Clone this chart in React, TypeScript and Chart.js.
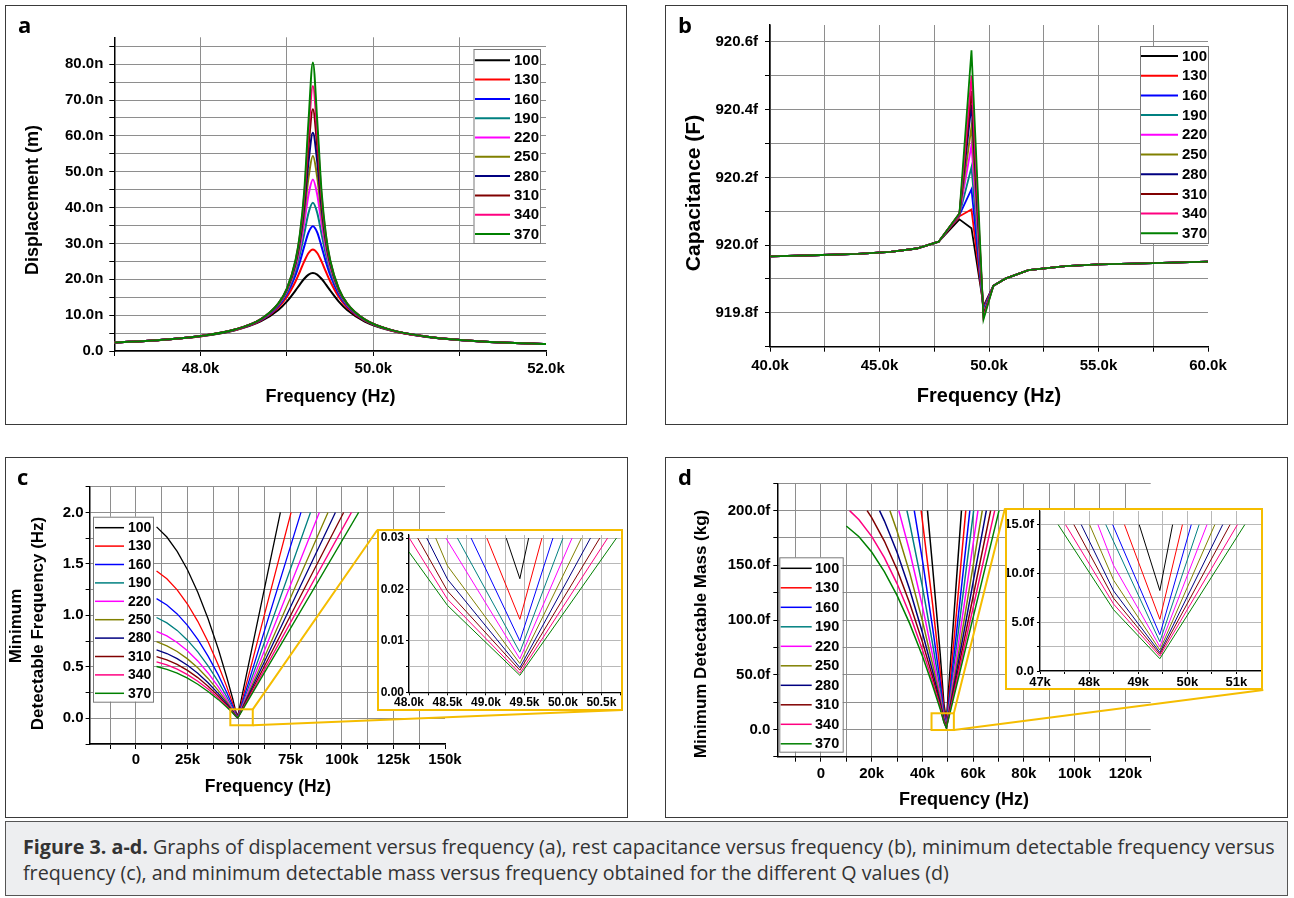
import React, { useEffect, useRef } from 'react';
import { Chart, registerables } from 'chart.js';

Chart.register(...registerables);

const SANS = '"Liberation Sans", Arial, Helvetica, sans-serif';
const LETTER_FONT = '"Open Sans", "Noto Sans", sans-serif';

// ---------- series identity ----------
const Q_VALUES = [100, 130, 160, 190, 220, 250, 280, 310, 340, 370];
const Q_COLORS = ['#000000', '#ff0000', '#0000ff', '#008080', '#ff00ff', '#808000', '#000080', '#800000', '#ff0080', '#008000'];

// ---------- (a) displacement (nm) vs frequency (kHz) ----------
const DISP_FREQ_K = [47.0, 47.5, 48.0, 48.4, 48.7, 48.9, 49.0, 49.1, 49.15, 49.2, 49.25, 49.3, 49.35, 49.4, 49.45, 49.5, 49.6, 49.7, 49.9, 50.2, 50.6, 51.0, 51.5, 52.0];
const DISP_Q100 = [2.37, 3.02, 4.11, 5.79, 8.31, 11.45, 13.83, 16.90, 18.59, 20.15, 21.32, 21.75, 21.32, 20.15, 18.58, 16.89, 13.78, 11.38, 8.22, 5.70, 4.00, 3.09, 2.38, 1.93];
const DISP_Q130 = [2.38, 3.03, 4.14, 5.88, 8.57, 12.15, 15.13, 19.47, 22.18, 25.00, 27.33, 28.28, 27.33, 25.00, 22.17, 19.44, 15.06, 12.07, 8.47, 5.78, 4.04, 3.10, 2.38, 1.93];
const DISP_Q160 = [2.39, 3.03, 4.16, 5.92, 8.70, 12.55, 15.93, 21.26, 24.94, 29.18, 33.09, 34.80, 33.09, 29.18, 24.92, 21.22, 15.85, 12.46, 8.61, 5.82, 4.06, 3.10, 2.38, 1.93];
const DISP_Q190 = [2.39, 3.03, 4.17, 5.95, 8.78, 12.80, 16.44, 22.52, 27.05, 32.72, 38.56, 41.33, 38.56, 32.72, 27.02, 22.47, 16.35, 12.70, 8.68, 5.84, 4.07, 3.10, 2.38, 1.93];
const DISP_Q220 = [2.39, 3.03, 4.17, 5.96, 8.83, 12.96, 16.78, 23.41, 28.64, 35.67, 43.66, 47.85, 43.66, 35.67, 28.60, 23.35, 16.68, 12.86, 8.73, 5.86, 4.07, 3.10, 2.38, 1.93];
const DISP_Q250 = [2.39, 3.03, 4.17, 5.98, 8.87, 13.07, 17.02, 24.08, 29.89, 38.16, 48.48, 54.38, 48.48, 38.16, 29.84, 24.01, 16.92, 12.97, 8.77, 5.87, 4.07, 3.10, 2.38, 1.93];
const DISP_Q280 = [2.39, 3.03, 4.18, 5.98, 8.89, 13.14, 17.18, 24.56, 30.83, 40.20, 52.88, 60.90, 52.88, 40.20, 30.77, 24.49, 17.08, 13.04, 8.79, 5.88, 4.07, 3.10, 2.38, 1.93];
const DISP_Q310 = [2.39, 3.03, 4.18, 5.99, 8.91, 13.20, 17.31, 24.95, 31.60, 41.95, 57.07, 67.43, 57.07, 41.95, 31.53, 24.87, 17.21, 13.10, 8.81, 5.88, 4.07, 3.10, 2.38, 1.93];
const DISP_Q340 = [2.39, 3.03, 4.18, 5.99, 8.92, 13.24, 17.41, 25.25, 32.22, 43.43, 60.99, 73.95, 60.99, 43.43, 32.14, 25.16, 17.31, 13.14, 8.82, 5.88, 4.07, 3.10, 2.38, 1.93];
const DISP_Q370 = [2.39, 3.03, 4.18, 6.00, 8.93, 13.28, 17.49, 25.47, 32.69, 44.60, 64.37, 80.48, 64.37, 44.60, 32.60, 25.38, 17.38, 13.17, 8.83, 5.89, 4.07, 3.10, 2.38, 1.93];
const DISP_SERIES = [DISP_Q100, DISP_Q130, DISP_Q160, DISP_Q190, DISP_Q220, DISP_Q250, DISP_Q280, DISP_Q310, DISP_Q340, DISP_Q370];

// ---------- (b) capacitance (fF) vs frequency (kHz) ----------
const CAP_FREQ_K = [40.0, 42.0, 44.0, 45.5, 46.7, 47.7, 48.65, 49.2, 49.75, 50.2, 50.75, 51.8, 53.5, 55.0, 57.5, 60.0];
const CAP_Q100 = [919.967, 919.970, 919.974, 919.980, 919.990, 920.010, 920.076, 920.050, 919.820, 919.880, 919.901, 919.926, 919.938, 919.943, 919.947, 919.951];
const CAP_Q130 = [919.967, 919.970, 919.974, 919.980, 919.990, 920.010, 920.085, 920.105, 919.815, 919.880, 919.901, 919.926, 919.938, 919.943, 919.947, 919.951];
const CAP_Q160 = [919.967, 919.970, 919.974, 919.980, 919.990, 920.010, 920.089, 920.165, 919.810, 919.880, 919.901, 919.926, 919.938, 919.943, 919.947, 919.951];
const CAP_Q190 = [919.967, 919.970, 919.974, 919.980, 919.990, 920.010, 920.090, 920.230, 919.805, 919.880, 919.901, 919.926, 919.938, 919.943, 919.947, 919.951];
const CAP_Q220 = [919.967, 919.970, 919.974, 919.980, 919.990, 920.010, 920.091, 920.295, 919.800, 919.880, 919.901, 919.926, 919.938, 919.943, 919.947, 919.951];
const CAP_Q250 = [919.967, 919.970, 919.974, 919.980, 919.990, 920.010, 920.092, 920.350, 919.797, 919.880, 919.901, 919.926, 919.938, 919.943, 919.947, 919.951];
const CAP_Q280 = [919.967, 919.970, 919.974, 919.980, 919.990, 920.010, 920.092, 920.415, 919.793, 919.880, 919.901, 919.926, 919.938, 919.943, 919.947, 919.951];
const CAP_Q310 = [919.967, 919.970, 919.974, 919.980, 919.990, 920.010, 920.093, 920.455, 919.790, 919.880, 919.901, 919.926, 919.938, 919.943, 919.947, 919.951];
const CAP_Q340 = [919.967, 919.970, 919.974, 919.980, 919.990, 920.010, 920.093, 920.500, 919.786, 919.880, 919.901, 919.926, 919.938, 919.943, 919.947, 919.951];
const CAP_Q370 = [919.967, 919.970, 919.974, 919.980, 919.990, 920.010, 920.094, 920.575, 919.781, 919.880, 919.901, 919.926, 919.938, 919.943, 919.947, 919.951];
const CAP_SERIES = [CAP_Q100, CAP_Q130, CAP_Q160, CAP_Q190, CAP_Q220, CAP_Q250, CAP_Q280, CAP_Q310, CAP_Q340, CAP_Q370];

// ---------- (c) minimum detectable frequency (Hz) vs frequency (kHz) ----------
const MDF_FREQ_K = [10, 15, 20, 25, 30, 35, 40, 44, 47, 48.5, 49.44];
const MDF_Q100 = [1.860, 1.761, 1.622, 1.443, 1.225, 0.967, 0.670, 0.403, 0.187, 0.0627, 0.0221];
const MDF_Q130 = [1.431, 1.355, 1.248, 1.110, 0.942, 0.744, 0.515, 0.310, 0.144, 0.0484, 0.0142];
const MDF_Q160 = [1.163, 1.101, 1.014, 0.902, 0.766, 0.604, 0.419, 0.252, 0.117, 0.0392, 0.0100];
const MDF_Q190 = [0.979, 0.927, 0.854, 0.759, 0.645, 0.509, 0.353, 0.212, 0.098, 0.0330, 0.0078];
const MDF_Q220 = [0.845, 0.800, 0.737, 0.656, 0.557, 0.440, 0.305, 0.183, 0.085, 0.0286, 0.0065];
const MDF_Q250 = [0.744, 0.704, 0.649, 0.577, 0.490, 0.387, 0.268, 0.161, 0.075, 0.0246, 0.0056];
const MDF_Q280 = [0.664, 0.629, 0.579, 0.515, 0.438, 0.345, 0.239, 0.144, 0.067, 0.0220, 0.0048];
const MDF_Q310 = [0.600, 0.568, 0.523, 0.465, 0.395, 0.312, 0.216, 0.130, 0.060, 0.0197, 0.0043];
const MDF_Q340 = [0.547, 0.518, 0.477, 0.424, 0.360, 0.284, 0.197, 0.119, 0.055, 0.0181, 0.0037];
const MDF_Q370 = [0.503, 0.476, 0.438, 0.390, 0.331, 0.261, 0.181, 0.109, 0.051, 0.0169, 0.0033];
const MDF_SERIES = [MDF_Q100, MDF_Q130, MDF_Q160, MDF_Q190, MDF_Q220, MDF_Q250, MDF_Q280, MDF_Q310, MDF_Q340, MDF_Q370];
const MDF_EXIT_K = [70.1, 75.3, 80.1, 84.7, 89.0, 93.2, 96.8, 100.8, 104.6, 108.1];
const MDF_LIMIT = 2.0;

// (c) inset
const MDFI_ENTRY_K = [49.263, 49.011, 48.807, 48.629, 48.48, 48.347, 48.23, 48.113, 48.004, 48.0];
const MDFI_ENTRY_VAL = [0.03, 0.03, 0.03, 0.03, 0.03, 0.03, 0.03, 0.03, 0.03, 0.0273];
const MDFI_KNEE_K = 48.5;
const MDFI_KNEE = [null, null, null, null, null, 0.0246, 0.0220, 0.0197, 0.0181, 0.0169];
const MDFI_MIN_K = 49.44;
const MDFI_MIN = [0.0221, 0.0142, 0.0100, 0.0078, 0.0065, 0.0056, 0.0048, 0.0043, 0.0037, 0.0033];
const MDFI_EXIT_K = [49.554, 49.727, 49.870, 50.000, 50.118, 50.240, 50.357, 50.478, 50.580, 50.695];
const MDFI_EDGE = 0.03;

// ---------- (d) minimum detectable mass (fg) vs frequency (kHz) ----------
const MDM_FREQ_K = [10, 15, 20, 25, 30, 35, 40, 44, 47, 48.5, 49.44];
const MDM_Q100 = [null, null, null, null, null, null, null, 149.1, 69.2, 23.2, 8.25];
const MDM_Q130 = [null, null, null, null, null, null, 190.7, 114.7, 53.2, 17.9, 5.3];
const MDM_Q160 = [null, null, null, null, null, null, 154.9, 93.2, 43.2, 14.5, 3.72];
const MDM_Q190 = [null, null, null, null, null, 188.3, 130.5, 78.5, 36.4, 12.2, 3.0];
const MDM_Q220 = [null, null, null, null, null, 162.6, 112.7, 67.8, 31.4, 10.6, 2.5];
const MDM_Q250 = [null, null, null, null, 181.3, 143.1, 99.2, 59.6, 27.7, 9.3, 2.15];
const MDM_Q280 = [null, null, null, 190.7, 161.9, 127.8, 88.5, 53.3, 24.7, 8.3, 1.9];
const MDM_Q310 = [null, null, 193.6, 172.2, 146.2, 115.4, 80.0, 48.1, 22.3, 7.5, 1.72];
const MDM_Q340 = [null, 191.6, 176.5, 157.0, 133.3, 105.2, 72.9, 43.9, 20.3, 6.8, 1.52];
const MDM_Q370 = [186.0, 176.1, 162.2, 144.3, 122.5, 96.7, 67.0, 40.3, 18.7, 6.3, 1.26];
const MDM_SERIES = [MDM_Q100, MDM_Q130, MDM_Q160, MDM_Q190, MDM_Q220, MDM_Q250, MDM_Q280, MDM_Q310, MDM_Q340, MDM_Q370];
const MDM_ENTRY_K = [42.0, 39.5, 36.8, 33.9, 30.7, 27.2, 23.1, 18.2, 11.3, null];
const MDM_EXIT_K = [55.4, 57.1, 58.7, 60.2, 61.9, 63.6, 65.2, 66.9, 68.5, 70.2];
const MDM_LIMIT = 200;

// (d) inset
const MDMI_ENTRY_K = [49.02, 48.72, 48.48, 48.34, 48.18, 48.01, 47.84, 47.69, 47.52, 47.37];
const MDMI_KNEE_K = 48.5;
const MDMI_KNEE = [null, null, null, null, 10.8, 9.3, 8.2, 7.45, 6.85, 6.27];
const MDMI_MIN_K = 49.44;
const MDMI_MIN = [8.25, 5.3, 3.72, 3.0, 2.5, 2.15, 1.9, 1.72, 1.52, 1.26];
const MDMI_EXIT_K = [49.70, 49.90, 50.08, 50.24, 50.40, 50.56, 50.72, 50.87, 51.02, 51.17];
const MDMI_EDGE = 15;

// ---------- point builders ----------
const dispPoints = (i: number) => DISP_FREQ_K.map((f, j) => ({ x: f, y: DISP_SERIES[i][j] }));
const capPoints = (i: number) => CAP_FREQ_K.map((f, j) => ({ x: f, y: CAP_SERIES[i][j] }));
const mdfPoints = (i: number) => {
  const pts = MDF_FREQ_K.map((f, j) => ({ x: f, y: MDF_SERIES[i][j] }));
  pts.push({ x: MDF_EXIT_K[i], y: MDF_LIMIT });
  return pts;
};
const mdfInsetPoints = (i: number) => {
  const pts: any[] = [{ x: MDFI_ENTRY_K[i], y: MDFI_ENTRY_VAL[i] }];
  if (MDFI_KNEE[i] !== null) pts.push({ x: MDFI_KNEE_K, y: MDFI_KNEE[i] });
  pts.push({ x: MDFI_MIN_K, y: MDFI_MIN[i] });
  pts.push({ x: MDFI_EXIT_K[i], y: MDFI_EDGE });
  return pts;
};
const mdmPoints = (i: number) => {
  const pts: any[] = [];
  if (MDM_ENTRY_K[i] !== null) pts.push({ x: MDM_ENTRY_K[i], y: MDM_LIMIT });
  MDM_FREQ_K.forEach((f, j) => {
    const v = MDM_SERIES[i][j];
    if (v !== null) pts.push({ x: f, y: v });
  });
  pts.push({ x: MDM_EXIT_K[i], y: MDM_LIMIT });
  return pts;
};
const mdmInsetPoints = (i: number) => {
  const pts: any[] = [{ x: MDMI_ENTRY_K[i], y: MDMI_EDGE }];
  if (MDMI_KNEE[i] !== null) pts.push({ x: MDMI_KNEE_K, y: MDMI_KNEE[i] });
  pts.push({ x: MDMI_MIN_K, y: MDMI_MIN[i] });
  pts.push({ x: MDMI_EXIT_K[i], y: MDMI_EDGE });
  return pts;
};

function makeDatasets(builder: (i: number) => any[], width: number, smooth: boolean) {
  return Q_VALUES.map((q, i) => ({
    label: String(q),
    data: builder(i),
    borderColor: Q_COLORS[i],
    backgroundColor: Q_COLORS[i],
    borderWidth: width,
    pointRadius: 0,
    pointHoverRadius: 0,
    fill: false,
    tension: 0,
    cubicInterpolationMode: smooth ? 'monotone' : 'default',
    order: Q_VALUES.length - 1 - i,
  }));
}

// ---------- axis helper ----------
function axis(o: any) {
  return {
    type: 'linear',
    min: o.min,
    max: o.max,
    afterFit: (s: any) => {
      if (o.horizontal) s.height = o.fit; else s.width = o.fit;
      s.paddingLeft = 0; s.paddingRight = 0; s.paddingTop = 0; s.paddingBottom = 0;
    },
    ticks: {
      stepSize: o.step,
      autoSkip: false,
      maxRotation: 0,
      minRotation: 0,
      includeBounds: false,
      padding: o.pad,
      color: '#000',
      font: { family: SANS, size: o.font, weight: 'bold' },
      callback: (v: number) => o.label(v),
    },
    grid: {
      color: (ctx: any) => (ctx.tick && o.hideAt !== undefined && Math.abs(ctx.tick.value - o.hideAt) < 1e-9) ? 'rgba(0,0,0,0)' : o.grid,
      lineWidth: 1,
      tickLength: o.tickLen,
      tickColor: '#000',
      tickWidth: 1,
    },
    border: { display: true, color: '#000', width: o.border ?? 1.5 },
  };
}

// ---------- decoration plugin (titles, legend, zoom marker) ----------
function decor(spec: any) {
  return {
    id: 'decor',
    afterDraw(chart: any) {
      const ctx = chart.ctx;
      ctx.save();
      if (spec.zoom) {
        const z = spec.zoom;
        const xs = chart.scales.x, ys = chart.scales.y;
        const x0 = xs.getPixelForValue(z.x0), x1 = xs.getPixelForValue(z.x1);
        const yb = ys.getPixelForValue(z.y0), yt = ys.getPixelForValue(z.y1);
        ctx.strokeStyle = '#f5bd00';
        ctx.lineWidth = 2;
        ctx.strokeRect(x0, yt, x1 - x0, yb - yt);
        ctx.beginPath();
        ctx.moveTo(x1, yt); ctx.lineTo(z.tl[0], z.tl[1]);
        ctx.moveTo(x1, yb); ctx.lineTo(z.br[0], z.br[1]);
        ctx.stroke();
      }
      (spec.texts || []).forEach((t: any) => {
        ctx.save();
        ctx.translate(t.x, t.y);
        if (t.rotate) ctx.rotate(-Math.PI / 2);
        ctx.font = `bold ${t.size}px ${t.family || SANS}`;
        ctx.fillStyle = '#000';
        ctx.textAlign = t.align || 'center';
        ctx.textBaseline = t.baseline || 'middle';
        ctx.fillText(t.text, 0, 0);
        ctx.restore();
      });
      if (spec.legend) {
        const L = spec.legend;
        ctx.fillStyle = '#fff';
        ctx.fillRect(L.x0, L.y0, L.x1 - L.x0, L.y1 - L.y0);
        ctx.strokeStyle = '#7a7a7a';
        ctx.lineWidth = 1;
        ctx.strokeRect(L.x0 + 0.5, L.y0 + 0.5, L.x1 - L.x0, L.y1 - L.y0);
        ctx.font = `bold ${L.size}px ${SANS}`;
        ctx.textAlign = 'left';
        ctx.textBaseline = 'middle';
        chart.data.datasets.forEach((ds: any, i: number) => {
          const y = L.row0 + i * L.step;
          ctx.strokeStyle = ds.borderColor;
          ctx.lineWidth = L.lw;
          ctx.beginPath();
          ctx.moveTo(L.lx0, y); ctx.lineTo(L.lx1, y);
          ctx.stroke();
          ctx.fillStyle = '#000';
          ctx.fillText(ds.label, L.tx, y + 0.5);
        });
      }
      ctx.restore();
    },
  };
}

function lineConfig(o: any) {
  return {
    type: 'line',
    data: { datasets: o.datasets },
    options: {
      responsive: false,
      maintainAspectRatio: false,
      animation: false,
      events: [],
      layout: { autoPadding: false, padding: { left: 0, top: o.area.top, right: o.w - o.area.right, bottom: 0 } },
      scales: { x: o.x, y: o.y },
      plugins: { legend: { display: false }, tooltip: { enabled: false }, title: { display: false } },
    },
    plugins: [decor(o.decor)],
  };
}

function ChartCanvas({ left, top, width, height, build }: any) {
  const ref = useRef<HTMLCanvasElement | null>(null);
  useEffect(() => {
    const chart = new Chart(ref.current as HTMLCanvasElement, build());
    return () => chart.destroy();
  }, []);
  return <canvas ref={ref} width={width} height={height} style={{ position: 'absolute', left, top, width, height }} />;
}

// ---------- chart builders ----------
const GRID = '#8e8e8e';
const GRID_INSET = '#b8b8b8';

const buildA = () => {
  const w = 622, h = 420, area = { left: 109.3, top: 32.3, right: 541, bottom: 346 };
  return lineConfig({
    w, area,
    datasets: makeDatasets(dispPoints, 2, true),
    x: axis({ horizontal: true, min: 47, max: 52, step: 1, fit: h - area.bottom, font: 15, pad: 4, tickLen: 5, grid: GRID, hideAt: 52,
      label: (v: number) => (Math.round(v) % 2 === 0 ? v.toFixed(1) + 'k' : '') }),
    y: axis({ min: 0, max: 87.5, step: 5, fit: area.left, font: 15, pad: 6, tickLen: 5, grid: GRID,
      label: (v: number) => (Math.round(v) % 10 === 0 ? (v === 0 ? '0.0' : v.toFixed(1) + 'n') : '') }),
    decor: {
      texts: [
        { text: 'a', x: 13, y: 28, size: 22, family: LETTER_FONT, align: 'left', baseline: 'alphabetic' },
        { text: 'Displacement (m)', x: 27.6, y: 195, size: 18, rotate: true },
        { text: 'Frequency (Hz)', x: 325.6, y: 392, size: 18 },
      ],
      legend: { x0: 468.5, y0: 44, x1: 535, y1: 238, row0: 55.3, step: 19.3, lx0: 470, lx1: 505, tx: 509, size: 15, lw: 2 },
    },
  });
};

const buildB = () => {
  const w = 623, h = 420, area = { left: 105, top: 20, right: 543, bottom: 341.7 };
  return lineConfig({
    w, area,
    datasets: makeDatasets(capPoints, 1.8, false),
    x: axis({ horizontal: true, min: 40, max: 60, step: 2.5, fit: h - area.bottom, font: 15, pad: 5, tickLen: 5, grid: GRID, hideAt: 60,
      label: (v: number) => (Math.round(v * 2) % 10 === 0 ? v.toFixed(1) + 'k' : '') }),
    y: axis({ min: 919.7, max: 920.65, step: 0.1, fit: area.left, font: 15, pad: 7, tickLen: 5, grid: GRID,
      label: (v: number) => (Math.round(v * 10) % 2 === 0 ? v.toFixed(1) + 'f' : '') }),
    decor: {
      texts: [
        { text: 'b', x: 13, y: 28, size: 22, family: LETTER_FONT, align: 'left', baseline: 'alphabetic' },
        { text: 'Capacitance (F)', x: 29, y: 188, size: 21, rotate: true },
        { text: 'Frequency (Hz)', x: 324, y: 391, size: 20 },
      ],
      legend: { x0: 475, y0: 41, x1: 543, y1: 238, row0: 51, step: 19.7, lx0: 476, lx1: 513, tx: 517, size: 15, lw: 2 },
    },
  });
};

const buildC = () => {
  const w = 623, h = 361, area = { left: 84.6, top: 29.7, right: 440, bottom: 287 };
  return lineConfig({
    w, area,
    datasets: makeDatasets(mdfPoints, 1.3, false),
    x: axis({ horizontal: true, min: -22.5, max: 150, step: 12.5, fit: h - area.bottom, font: 15, pad: 2, tickLen: 5, grid: GRID, hideAt: 150,
      label: (v: number) => (Math.round(v / 12.5) % 2 === 0 ? (v === 0 ? '0' : Math.round(v) + 'k') : '') }),
    y: axis({ min: -0.25, max: 2.25, step: 0.25, fit: area.left, font: 15, pad: 2, tickLen: 4, grid: GRID,
      label: (v: number) => (Math.round(v * 4) % 2 === 0 ? v.toFixed(1) : '') }),
    decor: {
      zoom: { x0: 45.8, x1: 56.7, y0: -0.068, y1: 0.087, tl: [372.3, 73], br: [617.7, 253] },
      texts: [
        { text: 'c', x: 12, y: 28, size: 22, family: LETTER_FONT, align: 'left', baseline: 'alphabetic' },
        { text: 'Minimum', x: 11.7, y: 169, size: 17, rotate: true },
        { text: 'Detectable Frequency (Hz)', x: 33.3, y: 166.5, size: 17, rotate: true },
        { text: 'Frequency (Hz)', x: 263, y: 330.3, size: 17.5 },
      ],
      legend: { x0: 88, y0: 59.7, x1: 148, y1: 244.7, row0: 70.7, step: 18.4, lx0: 90, lx1: 119, tx: 123, size: 14, lw: 1.5 },
    },
  });
};

const buildCInset = () => {
  const w = 242, h = 178, area = { left: 30, top: 4, right: 241.7, bottom: 161.3 };
  return lineConfig({
    w, area,
    datasets: makeDatasets(mdfInsetPoints, 1, false),
    x: axis({ horizontal: true, min: 48, max: 50.75, step: 0.25, fit: h - area.bottom, font: 12, pad: 0.5, tickLen: 3, grid: GRID_INSET, hideAt: 50.75, border: 1.2,
      label: (v: number) => (Math.round(v * 4) % 2 === 0 ? v.toFixed(1) + 'k' : '') }),
    y: axis({ min: 0, max: 0.0306, step: 0.005, fit: area.left, font: 12, pad: 2, tickLen: 3, grid: GRID_INSET, border: 1.2,
      label: (v: number) => (Math.round(v * 200) % 2 === 0 ? v.toFixed(2) : '') }),
    decor: {},
  });
};

const buildD = () => {
  const w = 623, h = 361, area = { left: 112.3, top: 26.3, right: 485.7, bottom: 299.7 };
  return lineConfig({
    w, area,
    datasets: makeDatasets(mdmPoints, 1.5, false),
    x: axis({ horizontal: true, min: -17.2, max: 130, step: 10, fit: h - area.bottom, font: 15, pad: 3, tickLen: 5, grid: GRID, hideAt: 130,
      label: (v: number) => (Math.round(v / 10) % 2 === 0 ? (v === 0 ? '0' : Math.round(v) + 'k') : '') }),
    y: axis({ min: -25, max: 225, step: 25, fit: area.left, font: 15, pad: 3, tickLen: 4, grid: GRID,
      label: (v: number) => (Math.round(v / 25) % 2 === 0 ? (v === 0 ? '0.0' : v.toFixed(1) + 'f') : '') }),
    decor: {
      zoom: { x0: 43.6, x1: 52.4, y0: -0.6, y1: 14.7, tl: [340, 51.3], br: [598.3, 233] },
      texts: [
        { text: 'd', x: 13, y: 28, size: 22, family: LETTER_FONT, align: 'left', baseline: 'alphabetic' },
        { text: 'Minimum Detectable Mass (kg)', x: 36.7, y: 177, size: 17, rotate: true },
        { text: 'Frequency (Hz)', x: 299, y: 343, size: 18 },
      ],
      legend: { x0: 114.3, y0: 100.3, x1: 177.7, y1: 294.7, row0: 111.3, step: 19.5, lx0: 115.7, lx1: 146.7, tx: 150, size: 14.5, lw: 1.5 },
    },
  });
};

const buildDInset = () => {
  const w = 254, h = 178, area = { left: 33, top: 1, right: 254, bottom: 161 };
  return lineConfig({
    w, area,
    datasets: makeDatasets(mdmInsetPoints, 1, false),
    x: axis({ horizontal: true, min: 47, max: 51.5, step: 0.5, fit: h - area.bottom, font: 13, pad: 1, tickLen: 3, grid: GRID_INSET, hideAt: 51.5, border: 1.2,
      label: (v: number) => (Math.round(v * 2) % 2 === 0 ? Math.round(v) + 'k' : '') }),
    y: axis({ min: 0, max: 16.4, step: 2.5, fit: area.left, font: 13, pad: 3, tickLen: 3, grid: GRID_INSET, border: 1.2,
      label: (v: number) => (Math.round(v / 2.5) % 2 === 0 ? (v === 0 ? '0.0' : v.toFixed(1) + 'f') : '') }),
    decor: {},
  });
};

const frame = (l: number, t: number, w: number, h: number): any => ({
  position: 'absolute', left: l, top: t, width: w, height: h, boxSizing: 'border-box', border: '1px solid #3a3a3a', background: '#fff',
});
const insetFrame = (l: number, t: number, w: number, h: number): any => ({
  position: 'absolute', left: l, top: t, width: w, height: h, boxSizing: 'border-box', border: '2px solid #f5bd00', background: '#fff',
});

export default function App() {
  return (
    <div style={{ position: 'absolute', left: 0, top: 0, width: 1294, height: 898, background: '#fff', overflow: 'hidden' }}>
      <div style={frame(5, 5, 622, 420)} />
      <div style={frame(665, 5, 623, 420)} />
      <div style={frame(5, 457, 623, 361)} />
      <div style={frame(665, 457, 623, 361)} />
      <ChartCanvas left={5} top={5} width={622} height={420} build={buildA} />
      <ChartCanvas left={665} top={5} width={623} height={420} build={buildB} />
      <ChartCanvas left={5} top={457} width={623} height={361} build={buildC} />
      <ChartCanvas left={665} top={457} width={623} height={361} build={buildD} />
      <div style={insetFrame(377, 529, 246, 182)} />
      <ChartCanvas left={379} top={531} width={242} height={178} build={buildCInset} />
      <div style={insetFrame(1005, 508, 258, 182)} />
      <ChartCanvas left={1007} top={510} width={254} height={178} build={buildDInset} />
      <div style={{ position: 'absolute', left: 5, top: 821, width: 1283, height: 75, boxSizing: 'border-box', border: '1px solid #555', background: '#edeef0', fontFamily: LETTER_FONT, fontSize: 19.7, color: '#333', whiteSpace: 'nowrap' }}>
        <div style={{ position: 'absolute', left: 17, top: 13, lineHeight: '24px' }}>
          <b>Figure 3. a-d.</b> Graphs of displacement versus frequency (a), rest capacitance versus frequency (b), minimum detectable frequency versus
        </div>
        <div style={{ position: 'absolute', left: 17, top: 39, lineHeight: '24px' }}>
          frequency (c), and minimum detectable mass versus frequency obtained for the different Q values (d)
        </div>
      </div>
    </div>
  );
}
